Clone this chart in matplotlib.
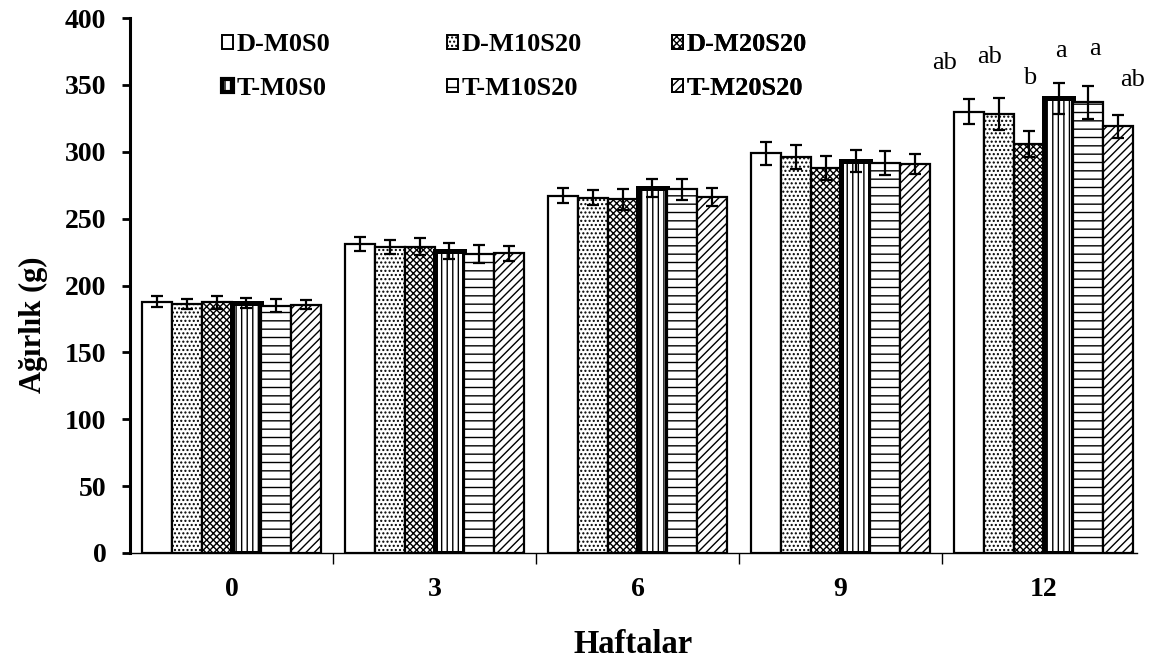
import matplotlib
matplotlib.use("Agg")
import matplotlib.pyplot as plt
import numpy as np
from matplotlib.patches import Patch

plt.rcParams['font.family'] = ['Liberation Serif', 'DejaVu Serif']
plt.rcParams['hatch.linewidth'] = 1.0

weeks = ['0', '3', '6', '9', '12']
series = ['D-M0S0', 'D-M10S20', 'D-M20S20', 'T-M0S0', 'T-M10S20', 'T-M20S20']

d_m0s0 = [188, 231, 267, 299, 330]
d_m10s20 = [186, 229, 265.5, 296, 328]
d_m20s20 = [187.5, 229, 264.5, 288, 306]
t_m0s0 = [187, 226, 273, 293, 340]
t_m10s20 = [185, 223.5, 272, 291.5, 337]
t_m20s20 = [185.5, 224, 266, 291, 319]

err_d_m0s0 = [4, 5.2, 5.6, 8.6, 9.3]
err_d_m10s20 = [3.7, 5.2, 5.6, 9, 11.9]
err_d_m20s20 = [4.9, 6.3, 7.8, 9, 9.7]
err_t_m0s0 = [3.7, 6, 6.7, 8, 11.6]
err_t_m10s20 = [4.9, 6.5, 7.8, 9, 12.3]
err_t_m20s20 = [3.4, 5.6, 6.7, 7.5, 8.6]

letters_12 = ['ab', 'ab', 'b', 'a', 'a', 'ab']

values = [d_m0s0, d_m10s20, d_m20s20, t_m0s0, t_m10s20, t_m20s20]
errors = [err_d_m0s0, err_d_m10s20, err_d_m20s20, err_t_m0s0, err_t_m10s20, err_t_m20s20]
hatches = ['', '....', 'xxxxx', '|||', '--', '////']
edge_lw = [1.6, 1.6, 1.6, 3.6, 1.6, 1.6]

W, H = 1155, 663
fig = plt.figure(figsize=(W / 100, H / 100), dpi=100)
ax = fig.add_axes([130 / W, 1 - 553 / H, (1137 - 130) / W, (553 - 18) / H])

x = np.arange(len(weeks))
bw = 0.147
handles = []
for i, (name, v, e) in enumerate(zip(series, values, errors)):
    pos = x + (i - 2.5) * bw
    ax.bar(pos, v, width=bw, color='white', edgecolor='black',
           linewidth=edge_lw[i], hatch=hatches[i], zorder=2)
    ax.errorbar(pos, v, yerr=e, fmt='none', ecolor='black', elinewidth=1.6,
                capsize=4.5, capthick=1.6, zorder=3)
    handles.append(Patch(facecolor='white', edgecolor='black',
                         linewidth=1.4 if i != 3 else 3.0, hatch=hatches[i], label=name))

# significance letters at week 12
dx = [-0.12, -0.045, 0.005, 0.01, 0.03, 0.07]
ly = [366, 371, 355, 375, 377, 354]
for i, lab in enumerate(letters_12):
    ax.text(4 + (i - 2.5) * bw + dx[i], ly[i], lab, ha='center', va='center',
            fontsize=19)

ax.set_xlim(-0.5, 4.46)
ax.set_ylim(0, 400)
ax.set_yticks(np.arange(0, 401, 50))
ax.set_xticks(x)
ax.set_xticklabels(weeks)
ax.set_xticks(np.arange(-0.5, 4.6, 1.0)[1:5], minor=True)
ax.tick_params(axis='x', which='major', length=0, pad=17, labelsize=20)
ax.tick_params(axis='x', which='minor', length=8, width=1, direction='out')
ax.tick_params(axis='y', length=6, width=2, pad=11, labelsize=20)
for lab in ax.get_xticklabels() + ax.get_yticklabels():
    lab.set_fontweight('bold')

ax.spines['top'].set_visible(False)
ax.spines['right'].set_visible(False)
ax.spines['left'].set_linewidth(2.2)
ax.spines['bottom'].set_linewidth(1.0)

ax.set_ylabel('Ağırlık (g)', fontsize=22, fontweight='bold', labelpad=12)
ax.yaxis.label.set_y((553 - 325) / 535)
ax.set_xlabel('Haftalar', fontsize=23.5, fontweight='bold', labelpad=20)

# legend in three columns, two rows
col_x = [222, 447, 672]
for c in range(3):
    leg = ax.legend(handles=[handles[c], handles[c + 3]],
                    loc='center left',
                    bbox_to_anchor=((col_x[c] - 130) / 1007, (553 - 66.5) / 535),
                    frameon=False, borderpad=0, borderaxespad=0,
                    handlelength=0.42, handleheight=0.42, handletextpad=0.15,
                    labelspacing=0.78, prop={'weight': 'bold', 'size': 19})
    ax.add_artist(leg)

fig.savefig('out.png', dpi=100)
